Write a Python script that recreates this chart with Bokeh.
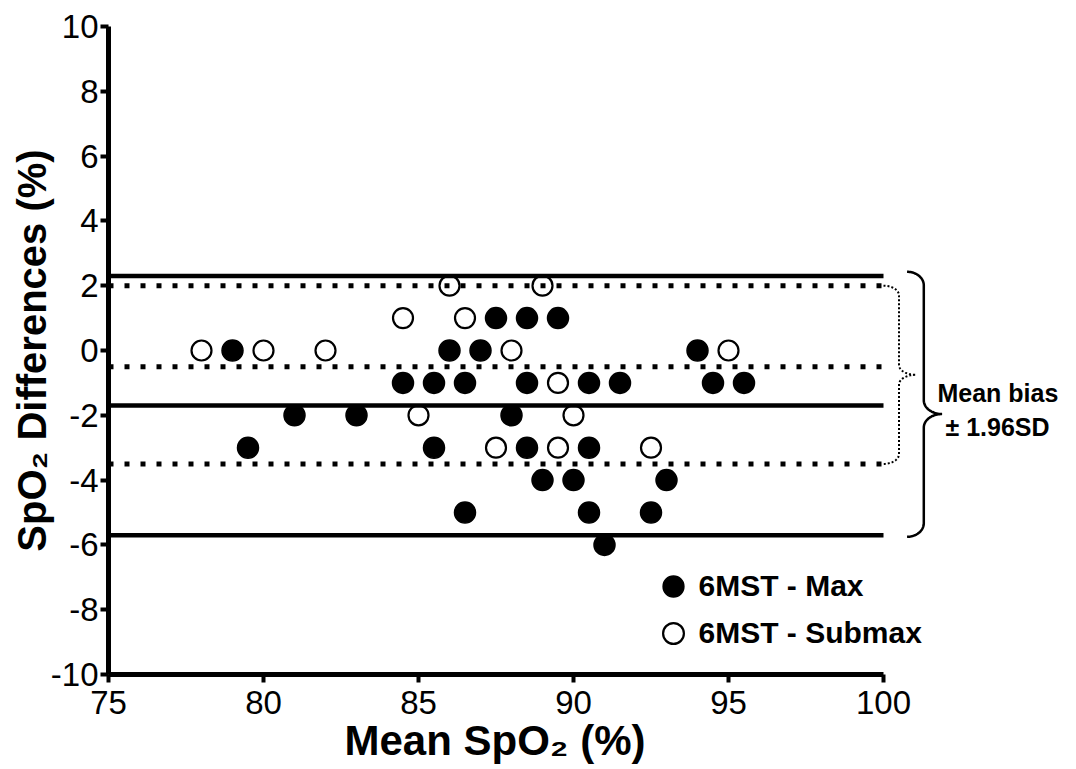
import numpy as np
from bokeh.plotting import figure
from bokeh.models import Range1d, FixedTicker, Label, Legend, LegendItem, Title
from bokeh.embed import file_html
from bokeh.resources import INLINE

# ---------------- data ----------------
X_TICKS = [75, 80, 85, 90, 95, 100]
Y_TICKS = [-10, -8, -6, -4, -2, 0, 2, 4, 6, 8, 10]
Y_TICK_LABELS = ["-10", "-8", "-6", "-4", "-2", "0", "2", "4", "6", "8", "10"]

# 6MST - Max (filled circles)
MAX_X = [87.5, 88.5, 89.5,
         79, 86, 87, 94,
         84.5, 85.5, 86.5, 88.5, 90.5, 91.5, 94.5, 95.5,
         81, 83, 88,
         79.5, 85.5, 88.5, 90.5,
         89, 90, 93,
         86.5, 90.5, 92.5,
         91]
MAX_Y = [1, 1, 1,
         0, 0, 0, 0,
         -1, -1, -1, -1, -1, -1, -1, -1,
         -2, -2, -2,
         -3, -3, -3, -3,
         -4, -4, -4,
         -5, -5, -5,
         -6]

# 6MST - Submax (open circles)
SUB_X = [86, 89,
         84.5, 86.5,
         78, 80, 82, 88, 95,
         89.5,
         85, 90,
         87.5, 89.5, 92.5]
SUB_Y = [2, 2,
         1, 1,
         0, 0, 0, 0, 0,
         -1,
         -2, -2,
         -3, -3, -3]

# Bland-Altman lines
MAX_LINES = [2.3, -1.7, -5.7]      # upper LoA, bias, lower LoA (solid)
SUB_LINES = [2.0, -0.5, -3.5]      # upper LoA, bias, lower LoA (dotted)

LABEL_MAX = "6MST - Max"
LABEL_SUB = "6MST - Submax"
X_TITLE = "Mean SpO\u2082 (%)"
Y_TITLE = "SpO\u2082 Differences (%)"
NOTE_1 = "Mean bias"
NOTE_2 = "\u00b1 1.96SD"

# ---------------- layout ----------------
FONT = "Liberation Sans"
PX_PER_X = 31.0
W, H = 1076, 769
LEFT, TOP, BOTTOM = 108, 26, 95
FRAME_W = W - LEFT
x_end = X_TICKS[0] + FRAME_W / PX_PER_X

p = figure(width=W, height=H,
           x_range=Range1d(X_TICKS[0], x_end),
           y_range=Range1d(Y_TICKS[0], Y_TICKS[-1]),
           output_backend="svg", toolbar_location=None,
           min_border_left=LEFT, min_border_right=0,
           min_border_top=TOP, min_border_bottom=BOTTOM)

p.background_fill_color = "white"
p.border_fill_color = "white"
p.outline_line_color = None
p.xgrid.visible = False
p.ygrid.visible = False

for ax in (p.xaxis[0], p.yaxis[0]):
    ax.axis_line_width = 5
    ax.axis_line_color = "black"
    ax.major_tick_line_width = 4
    ax.major_tick_line_color = "black"
    ax.major_tick_in = 0
    ax.major_tick_out = 8
    ax.minor_tick_line_color = None
    ax.major_label_text_font = FONT
    ax.major_label_text_font_size = "33px"
    ax.major_label_text_color = "black"

p.xaxis.ticker = FixedTicker(ticks=X_TICKS)
p.yaxis.ticker = FixedTicker(ticks=Y_TICKS)
p.yaxis.major_label_overrides = {t: s for t, s in zip(Y_TICKS, Y_TICK_LABELS)}
p.xaxis.bounds = (X_TICKS[0], X_TICKS[-1])
p.xaxis.major_label_standoff = 8
p.yaxis.major_label_standoff = 2

# y title as axis label
p.yaxis.axis_label = Y_TITLE
p.yaxis.axis_label_text_font = FONT
p.yaxis.axis_label_text_font_size = "40px"
p.yaxis.axis_label_text_font_style = "bold"
p.yaxis.axis_label_text_color = "black"
p.yaxis.axis_label_standoff = -6

# x title as a title below the axis, shifted to sit under the axis span
xt = Title(text=X_TITLE, align="left", offset=236, standoff=0,
           vertical_align="top",
           text_font=FONT, text_font_size="42px", text_font_style="bold",
           text_color="black")
p.add_layout(xt, "below")

# ---------------- points ----------------
r_max = p.scatter(MAX_X, MAX_Y, marker="circle", size=21,
                  fill_color="black", line_color="black", line_width=1.5)
r_sub = p.scatter(SUB_X, SUB_Y, marker="circle", size=20,
                  fill_color="white", line_color="black", line_width=2.2)

# ---------------- lines ----------------
x0s = [X_TICKS[0]] * 3
x1s = [X_TICKS[-1]] * 3
p.segment(x0=x0s, y0=MAX_LINES, x1=x1s, y1=MAX_LINES,
          line_color="black", line_width=4.5)
p.segment(x0=x0s, y0=SUB_LINES, x1=x1s, y1=SUB_LINES,
          line_color="black", line_width=5, line_dash="5 11", line_cap="butt")


# ---------------- braces ----------------
def brace(xa, xm, xt_, ytop, ybot, ytip, r, n=24):
    t = np.linspace(0, np.pi / 2, n)
    tr = t[::-1]
    xs = np.concatenate([
        xa + (xm - xa) * np.sin(t),
        xm + (xt_ - xm) * (1 - np.cos(t)),
        xm + (xt_ - xm) * (1 - np.cos(tr)),
        xa + (xm - xa) * np.sin(tr),
    ])
    ys = np.concatenate([
        ytop - r * (1 - np.cos(t)),
        ytip + r * (1 - np.sin(t)),
        ytip - r * (1 - np.sin(tr)),
        ybot + r * (1 - np.cos(tr)),
    ])
    return xs, ys


xe = X_TICKS[-1]
# dotted brace (submax limits)
bx, by = brace(xe, xe + 0.5, xe + 1.05, SUB_LINES[0], SUB_LINES[2],
               (SUB_LINES[0] + SUB_LINES[2]) / 2, 0.3)
p.line(bx, by, line_color="black", line_width=2, line_dash="2 2")
# solid brace (max limits)
bx2, by2 = brace(xe + 0.76, xe + 1.3, xe + 1.89, MAX_LINES[0] + 0.13,
                 MAX_LINES[2] - 0.05, MAX_LINES[1] - 0.26, 0.42)
p.line(bx2, by2, line_color="black", line_width=2.5)

p.add_layout(Label(x=xe + 1.74, y=-1.30, text=NOTE_1, text_font=FONT,
                   text_font_size="25px", text_font_style="bold",
                   text_align="left", text_baseline="alphabetic",
                   text_color="black"))
p.add_layout(Label(x=xe + 2.0, y=-2.35, text=NOTE_2, text_font=FONT,
                   text_font_size="25px", text_font_style="bold",
                   text_align="left", text_baseline="alphabetic",
                   text_color="black"))

# ---------------- legend (one entry per box, so rows sit where the reference has them) ----------------
def legend_box(label, renderer, vy):
    return Legend(items=[LegendItem(label=label, renderers=[renderer])],
                  location=(538.5, vy), glyph_width=52, glyph_height=52,
                  padding=0, margin=0, label_standoff=-1,
                  border_line_color=None, background_fill_alpha=0,
                  label_text_font=FONT, label_text_font_size="30px",
                  label_text_font_style="bold", label_text_color="black")


p.add_layout(legend_box(LABEL_MAX, r_max, 62))
p.add_layout(legend_box(LABEL_SUB, r_sub, 15))

open("out.html", "w").write(file_html(p, INLINE))
